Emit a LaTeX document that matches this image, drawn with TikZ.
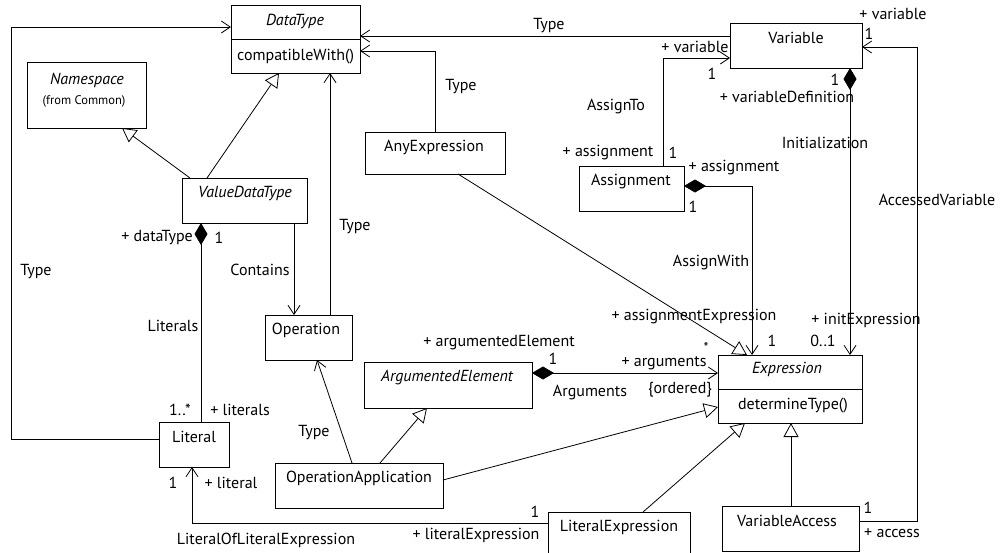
\documentclass[tikz,border=0pt]{standalone}
\usepackage{fontspec}
\setmainfont{PT Sans}
\usetikzlibrary{arrows.meta}
\begin{document}
\begin{tikzpicture}[x=1pt,y=-1pt,
  box/.style={draw, line width=0.9pt, inner sep=0pt, outer sep=0pt},
  txt/.style={inner sep=0pt, font=\fontsize{16}{18}\selectfont},
  itxt/.style={inner sep=0pt, font=\fontsize{16}{18}\selectfont\itshape},
  small/.style={inner sep=0pt, font=\fontsize{12.5}{14}\selectfont},
  lbl/.style={inner sep=0pt, font=\fontsize{16}{18}\selectfont},
  conn/.style={line width=0.8pt},
  assoc/.style={conn, -{Straight Barb[length=9pt,width=12pt,line width=0.8pt]}},
  gen/.style={conn, -{Triangle[open,length=14pt,width=15pt,line width=0.8pt]}},
  comp/.style={conn, {Diamond[length=22pt,width=13pt]}-},
  compa/.style={conn, {Diamond[length=22pt,width=13pt]}-{Straight Barb[length=9pt,width=12pt,line width=0.8pt]}},
]
\useasboundingbox (0,0) rectangle (1003,552);
\clip (0,0) rectangle (1003,552);

% ---- class boxes ----
\node[box, minimum width=129pt, minimum height=68pt] (DataType) at (295.5,39) {};
\draw[line width=0.9pt] (DataType.west |- 0,39) -- (DataType.east |- 0,39);
\node[itxt] (DataTypeN) at (295,21) {DataType};
\node[txt, anchor=west] (DataTypeOp) at (237,57) {compatibleWith()};

\node[box, minimum width=119pt, minimum height=66pt] (Namespace) at (86.5,95) {};
\node[itxt] (NamespaceN) at (87,80) {Namespace};
\node[small] (NamespaceF) at (84,101) {(from Common)};

\node[box, minimum width=125pt, minimum height=45pt] (ValueDataType) at (244.5,200.5) {};
\node[itxt] (ValueDataTypeN) at (245,193) {ValueDataType};

\node[box, minimum width=87pt, minimum height=45pt] (Operation) at (308.5,337.5) {};
\node[txt] (OperationN) at (306,330) {Operation};

\node[box, minimum width=70pt, minimum height=45pt] (Literal) at (194,444.5) {};
\node[txt] (LiteralN) at (194,437) {Literal};

\node[box, minimum width=168pt, minimum height=45pt] (OpApp) at (359,485.5) {};
\node[txt] (OpAppN) at (359,478) {OperationApplication};

\node[box, minimum width=168pt, minimum height=46pt] (ArgElem) at (448,385) {};
\node[itxt] (ArgElemN) at (447,377) {ArgumentedElement};

\node[box, minimum width=140pt, minimum height=42pt] (AnyExpr) at (435,153) {};
\node[txt] (AnyExprN) at (434,147) {AnyExpression};

\node[box, minimum width=132pt, minimum height=45pt] (Variable) at (796,45.5) {};
\node[txt] (VariableN) at (796,38) {Variable};

\node[box, minimum width=105pt, minimum height=45pt] (Assignment) at (631.5,188.5) {};
\node[txt] (AssignmentN) at (631,182) {Assignment};

\node[box, minimum width=144pt, minimum height=68pt] (Expression) at (790,389) {};
\draw[line width=0.9pt] (Expression.west |- 0,389) -- (Expression.east |- 0,389);
\node[itxt] (ExpressionN) at (787,369) {Expression};
\node[txt] (ExpressionOp) at (793,406) {determineType()};

\node[box, minimum width=142pt, minimum height=45pt] (LitExpr) at (619,534.5) {};
\node[txt] (LitExprN) at (619,527) {LiteralExpression};

\node[box, minimum width=137pt, minimum height=45pt] (VarAccess) at (790.5,528.5) {};
\node[txt] (VarAccessN) at (787,521) {VariableAccess};

% ---- connectors ----
\draw[assoc] (Literal.west |- 0,439) -- (11,439) -- (11,27) -- (DataType.west |- 0,27);
\draw[gen] (ValueDataType.north -| 190,0) -- (Namespace.south -| 122,0);
\draw[gen] (ValueDataType.north -| 207,0) -- (DataType.south -| 279,0);
\draw[assoc] (Operation.north -| 330,0) -- (DataType.south -| 330,0);
\draw[assoc] (ValueDataType.south -| 294,0) -- (Operation.north -| 294,0);
\draw[comp] (ValueDataType.south -| 201,0) -- (Literal.north -| 201,0);
\draw[assoc] (LitExpr.west |- 0,523) -- (192,523) -- (Literal.south -| 192,0);
\draw[assoc] (OpApp.north -| 352,0) -- (Operation.south -| 317,0);
\draw[gen] (OpApp.north -| 380,0) -- (ArgElem.south -| 427,0);
\draw[gen] (OpApp.east |- 0,480) -- (Expression.west |- 0,407);
\draw[compa] (ArgElem.east |- 0,373) -- (Expression.west |- 0,373);
\draw[assoc] (AnyExpr.north -| 435,0) -- (435,51) -- (DataType.east |- 0,51);
\draw[assoc] (Variable.west |- 0,36) -- (DataType.east |- 0,36);
\draw[gen] (AnyExpr.south -| 458,0) -- (Expression.north -| 747,0);
\draw[assoc] (Assignment.north -| 663,0) -- (663,58) -- (Variable.west |- 0,58);
\draw[compa] (Assignment.east |- 0,186) -- (752,186) -- (Expression.north -| 752,0);
\draw[compa] (Variable.south -| 850,0) -- (Expression.north -| 850,0);
\draw[assoc] (VarAccess.east |- 0,521) -- (917,521) -- (917,47) -- (Variable.east |- 0,47);
\draw[gen] (LitExpr.north -| 643,0) -- (Expression.south -| 745,0);
\draw[gen] (VarAccess.north -| 791,0) -- (Expression.south -| 791,0);

% ---- labels ----
\node[lbl] (l1) at (36,272) {Type};
\node[lbl] (l2) at (355,227) {Type};
\node[lbl] (l3) at (461,87) {Type};
\node[lbl] (l4) at (549,26) {Type};
\node[lbl] (l5) at (314,433) {Type};
\node[lbl] (l6) at (260,270) {Contains};
\node[lbl, anchor=east] (l7) at (193,238) {+ dataType};
\node[lbl] (l8) at (219,238) {1};
\node[lbl] (l9) at (173,326) {Literals};
\node[lbl] (l10) at (180,410) {1..*};
\node[lbl] (l11) at (240,410) {+ literals};
\node[lbl] (l12) at (173,483) {1};
\node[lbl] (l13) at (231,483) {+ literal};
\node[lbl] (l14) at (266,540) {LiteralOfLiteralExpression};
\node[lbl] (l15) at (535,512) {1};
\node[lbl] (l16) at (476,535) {+ literalExpression};
\node[lbl] (l17) at (499,343) {+ argumentedElement};
\node[lbl] (l18) at (553,359) {1};
\node[lbl] (l19) at (590,392) {Arguments};
\node[lbl, font=\fontsize{14}{15}\selectfont] (l20) at (706,347) {*};
\node[lbl] (l21) at (664,363) {+ arguments};
\node[lbl] (l22) at (680,390) {\{ordered\}};
\node[lbl] (l23) at (694,317) {+ assignmentExpression};
\node[lbl] (l24) at (772,341) {1};
\node[lbl] (l25) at (823,341) {0..1};
\node[lbl] (l26) at (866,320) {+ initExpression};
\node[lbl] (l27) at (711,263) {AssignWith};
\node[lbl] (l28) at (734,168) {+ assignment};
\node[lbl] (l29) at (693,207) {1};
\node[lbl] (l30) at (616,107) {AssignTo};
\node[lbl] (l31) at (608,153) {+ assignment};
\node[lbl] (l32) at (673,153) {1};
\node[lbl] (l33) at (695,47) {+ variable};
\node[lbl] (l34) at (712,74) {1};
\node[lbl] (l35) at (835,80) {1};
\node[lbl] (l36) at (787,97) {+ variableDefinition};
\node[lbl] (l37) at (825,143) {Initialization};
\node[lbl] (l38) at (893,14) {+ variable};
\node[lbl] (l39) at (869,34) {1};
\node[lbl] (l40) at (937,200) {AccessedVariable};
\node[lbl] (l41) at (868,508) {1};
\node[lbl] (l42) at (892,533) {+ access};
\end{tikzpicture}
\end{document}
